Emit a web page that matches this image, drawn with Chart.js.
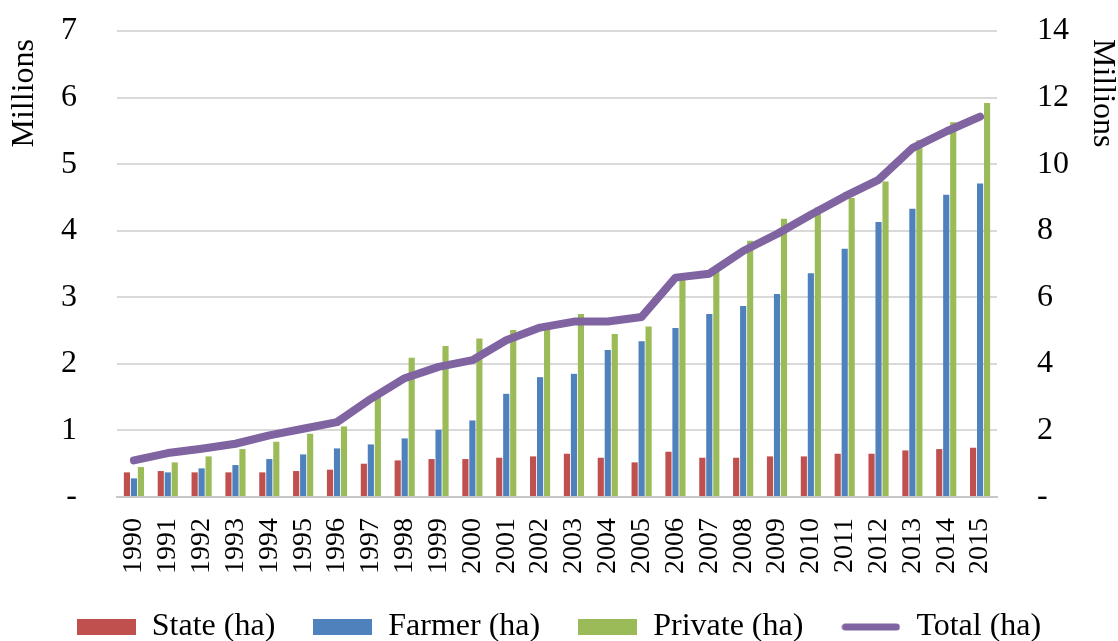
<!DOCTYPE html>
<html>
<head>
<meta charset="utf-8">
<script src="https://cdn.jsdelivr.net/npm/chart.js@4/dist/chart.umd.min.js"></script>
<style>
  html, body { margin: 0; padding: 0; background: #fff; }
  #wrap { width: 1118px; height: 641px; }
</style>
</head>
<body>
<div id="wrap"><canvas id="grafica"></canvas></div>
<script>
// datos (millones de ha)
const anios = ['1990','1991','1992','1993','1994','1995','1996','1997','1998','1999','2000','2001','2002',
  '2003','2004','2005','2006','2007','2008','2009','2010','2011','2012','2013','2014','2015'];
const estatal = [0.37, 0.39, 0.37, 0.37, 0.37, 0.39, 0.41, 0.50, 0.55, 0.57, 0.57, 0.59, 0.61,
  0.65, 0.59, 0.52, 0.68, 0.59, 0.59, 0.61, 0.61, 0.65, 0.65, 0.70, 0.72, 0.74];
const agricultor = [0.28, 0.37, 0.43, 0.48, 0.57, 0.64, 0.73, 0.79, 0.88, 1.01, 1.15, 1.55, 1.80,
  1.85, 2.21, 2.34, 2.54, 2.75, 2.87, 3.05, 3.36, 3.73, 4.13, 4.33, 4.54, 4.71];
const privado = [0.45, 0.52, 0.61, 0.72, 0.83, 0.95, 1.06, 1.50, 2.09, 2.27, 2.38, 2.51, 2.58,
  2.75, 2.45, 2.56, 3.29, 3.39, 3.85, 4.18, 4.35, 4.49, 4.74, 5.36, 5.63, 5.92];
const total = [1.10, 1.32, 1.45, 1.60, 1.85, 2.05, 2.25, 2.95, 3.57, 3.91, 4.11, 4.71, 5.09,
  5.27, 5.27, 5.41, 6.59, 6.71, 7.39, 7.90, 8.48, 9.03, 9.53, 10.48, 10.98, 11.43];

const rojo = '#C0504D', azul = '#4F81BD', verde = '#9BBB59', morado = '#8064A2';
const fuente = 'Liberation Serif';

// iconos de la leyenda
function cajita(color, linea) {
  const c = document.createElement('canvas');
  c.width = 59; c.height = 16;
  const g = c.getContext('2d');
  if (linea) {
    g.strokeStyle = color; g.lineWidth = 7; g.lineCap = 'round';
    g.beginPath(); g.moveTo(4, 8); g.lineTo(55, 8); g.stroke();
  } else {
    g.fillStyle = color; g.fillRect(0, 0, 59, 16);
  }
  return c;
}
const iconos = [cajita(rojo), cajita(azul), cajita(verde), cajita(morado, true)];

const barra = { categoryPercentage: 0.62, barPercentage: 0.88, yAxisID: 'y', order: 1 };

// el hueco entre etiqueta y eje va en tickLength (transparente), no en padding,
// porque el padding de los ticks empuja el area del grafico hacia abajo
new Chart(document.getElementById('grafica'), {
  type: 'bar',
  data: {
    labels: anios,
    datasets: [
      Object.assign({ label: 'State (ha)', data: estatal, backgroundColor: rojo }, barra),
      Object.assign({ label: 'Farmer (ha)', data: agricultor, backgroundColor: azul }, barra),
      Object.assign({ label: 'Private (ha)', data: privado, backgroundColor: verde }, barra),
      {
        type: 'line', label: 'Total (ha)', data: total, yAxisID: 'y1', order: 0,
        borderColor: morado, backgroundColor: morado, borderWidth: 8,
        pointRadius: 0, tension: 0, borderCapStyle: 'round', borderJoinStyle: 'round'
      }
    ]
  },
  options: {
    responsive: true,
    maintainAspectRatio: false,
    animation: false,
    layout: { padding: { top: 31, left: 0, right: 0, bottom: -12 } },
    plugins: {
      tooltip: { enabled: false },
      legend: {
        position: 'bottom',
        labels: {
          font: { family: fuente, size: 32 },
          color: '#000',
          padding: 38,
          usePointStyle: true,
          pointStyleWidth: 59,
          sort: (a, b) => a.datasetIndex - b.datasetIndex,
          generateLabels: chart => chart.data.datasets.map((d, i) => ({
            text: d.label, datasetIndex: i, pointStyle: iconos[i],
            fillStyle: d.backgroundColor, strokeStyle: d.backgroundColor, lineWidth: 0, hidden: false
          }))
        }
      }
    },
    scales: {
      x: {
        grid: { display: false, drawTicks: false },
        border: { display: true, color: '#c8c8c8', width: 2 },
        ticks: { font: { family: fuente, size: 28 }, color: '#000', minRotation: 90, maxRotation: 90, padding: 21, autoSkip: false },
        afterFit: s => { s.height = 76; }
      },
      y: {
        position: 'left', min: 0, max: 7,
        grid: { color: '#d9d9d9', lineWidth: 2, drawTicks: true, tickLength: 40, tickColor: 'rgba(0,0,0,0)' },
        border: { display: false },
        ticks: { stepSize: 1, font: { family: fuente, size: 32 }, color: '#000', padding: 0,
          callback: v => v === 0 ? '-' : v },
        title: { display: true, text: 'Millions ', align: 'end', font: { family: fuente, size: 32, lineHeight: 1 },
          color: '#000', padding: { top: 9, bottom: 0 } },
        afterFit: s => { s.width = 117; }
      },
      y1: {
        position: 'right', min: 0, max: 14,
        grid: { display: true, drawOnChartArea: false, drawTicks: true, tickLength: 40, tickColor: 'rgba(0,0,0,0)' },
        border: { display: false },
        ticks: { stepSize: 2, font: { family: fuente, size: 32 }, color: '#000', padding: 0,
          callback: v => v === 0 ? '-' : v },
        title: { display: true, text: ' Millions', align: 'end', font: { family: fuente, size: 32, lineHeight: 1 },
          color: '#000', padding: { top: 0, bottom: 0 } },
        afterFit: s => { s.width = 121; }
      }
    }
  }
});
</script>
</body>
</html>
